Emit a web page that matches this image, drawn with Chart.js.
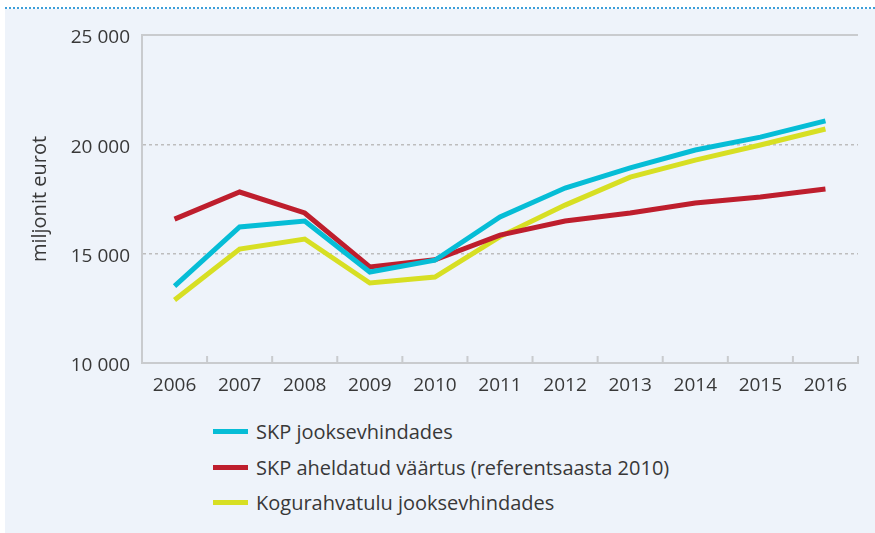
<!DOCTYPE html>
<html>

<head>
    <script src="https://cdn.jsdelivr.net/npm/chart.js@4.4.2/dist/chart.umd.min.js"></script>
    <style>
        body { margin: 0; background: #ffffff; font-family: 'Open Sans', sans-serif; }
        #panel { position: absolute; left: 5px; top: 9px; width: 870px; height: 524px; background: #eef3fa; }
        #dots { position: absolute; left: 5px; top: 7px; width: 870px; border-top: 2px dotted #3d9fda; }
        #wrap { position: absolute; left: 0; top: 0; width: 875px; height: 400px; }
        #legend { position: absolute; left: 213px; top: 414px; color: #383838; font-size: 20px; font-weight: 400; }
        .item { display: flex; align-items: center; height: 35.5px; }
        .swatch { width: 35px; height: 5px; margin-right: 8px; }
    </style>
</head>

<body>
    <div id="panel"></div>
    <div id="dots"></div>
    <div id="wrap"><canvas id="chart"></canvas></div>
    <div id="legend"></div>
</body>
<script>
    const years = ['2006', '2007', '2008', '2009', '2010', '2011', '2012', '2013', '2014', '2015', '2016'];
    const skpJooksev = [13520, 16220, 16490, 14160, 14700, 16680, 18000, 18920, 19740, 20330, 21070];
    const skpAheldatud = [16580, 17820, 16860, 14390, 14720, 15850, 16490, 16860, 17320, 17590, 17960];
    const kogurahvatulu = [12880, 15210, 15670, 13660, 13930, 15780, 17220, 18500, 19280, 19970, 20700];
    const yTicks = [10000, 15000, 20000, 25000];

    const font = { family: "'Open Sans', sans-serif", size: 19, weight: 400 };
    const axisColor = '#c9cbce';
    const textColor = '#383838';

    // solid top line + short ticks between years pointing into the plot
    const frame = {
        id: 'frame',
        afterDatasetsDraw(chart) {
            const { ctx, chartArea, scales } = chart;
            const x = scales.x;
            const step = x.getPixelForValue(1) - x.getPixelForValue(0);
            ctx.save();
            ctx.strokeStyle = axisColor;
            ctx.lineWidth = 2;
            ctx.beginPath();
            ctx.moveTo(chartArea.left, chartArea.top);
            ctx.lineTo(chartArea.right, chartArea.top);
            for (let i = 0; i <= years.length; i++) {
                const px = x.getPixelForValue(i) - step / 2;
                ctx.moveTo(px, chartArea.bottom);
                ctx.lineTo(px, chartArea.bottom - 7);
            }
            ctx.stroke();
            ctx.restore();
        }
    };

    const data = {
        labels: years,
        datasets: [
            { label: 'SKP jooksevhindades', data: skpJooksev, borderColor: '#06bdd6', backgroundColor: '#06bdd6' },
            { label: 'SKP aheldatud väärtus (referentsaasta 2010)', data: skpAheldatud, borderColor: '#be1e2d', backgroundColor: '#be1e2d' },
            { label: 'Kogurahvatulu jooksevhindades', data: kogurahvatulu, borderColor: '#d7df23', backgroundColor: '#d7df23' }
        ]
    };

    const config = {
        type: 'line',
        data: data,
        options: {
            responsive: true,
            maintainAspectRatio: false,
            animation: false,
            layout: { padding: { left: 0, top: 35, right: 17, bottom: 0 } },
            elements: {
                line: { borderWidth: 5, tension: 0 },
                point: { radius: 0 }
            },
            plugins: { legend: { display: false }, tooltip: { enabled: false } },
            scales: {
                x: {
                    offset: true,
                    grid: { display: false, drawTicks: false },
                    border: { color: axisColor, width: 2 },
                    ticks: { color: textColor, font: font, padding: 11, maxRotation: 0 },
                    afterFit: (s) => { s.height = 37; }
                },
                y: {
                    min: 10000,
                    max: 25000,
                    afterBuildTicks: (s) => { s.ticks = yTicks.map(v => ({ value: v })); },
                    grid: {
                        drawTicks: false,
                        color: (c) => (c.index === 0 || c.index === yTicks.length - 1) ? 'rgba(0,0,0,0)' : '#bdbdbd',
                        lineWidth: 1.5
                    },
                    border: { color: axisColor, width: 2, dash: [3, 3] },
                    ticks: {
                        color: textColor, font: font, padding: 12, labelOffset: 3,
                        callback: (v) => String(v).replace(/\B(?=(\d{3})+(?!\d))/g, ' ')
                    },
                    title: { display: true, text: 'miljonit eurot', color: textColor, font: { family: font.family, size: 20, weight: 400 }, padding: { top: 28, bottom: 0 } },
                    afterFit: (s) => { s.width = 142; }
                }
            }
        },
        plugins: [frame]
    };

    const chart = new Chart(document.getElementById('chart'), config);

    const legend = document.getElementById('legend');
    for (const ds of data.datasets) {
        const row = document.createElement('div');
        row.className = 'item';
        row.innerHTML = '<span class="swatch" style="background:' + ds.borderColor + '"></span><span>' + ds.label + '</span>';
        legend.appendChild(row);
    }
</script>

</html>
